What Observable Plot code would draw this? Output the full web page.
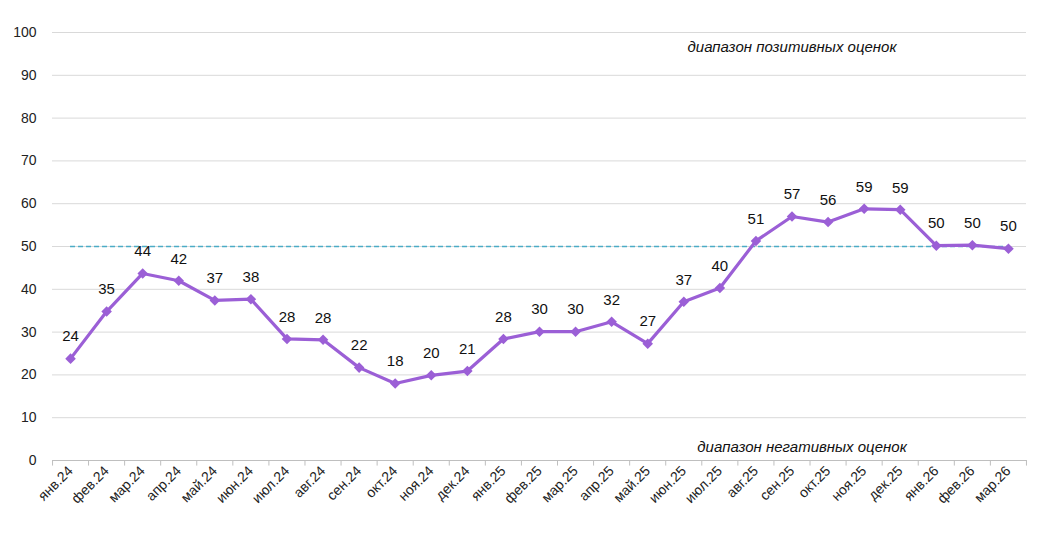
<!DOCTYPE html>
<html><head><meta charset="utf-8">
<script src="https://cdn.jsdelivr.net/npm/d3@7"></script>
<script src="https://cdn.jsdelivr.net/npm/@observablehq/plot@0.6"></script>
<style>body{margin:0;background:#fff;font-family:"Liberation Sans",Arial,sans-serif}</style>
</head><body><div id="c"></div>
<script>
const months = ["янв.24","фев.24","мар.24","апр.24","май.24","июн.24","июл.24","авг.24","сен.24","окт.24","ноя.24","дек.24","янв.25","фев.25","мар.25","апр.25","май.25","июн.25","июл.25","авг.25","сен.25","окт.25","ноя.25","дек.25","янв.26","фев.26","мар.26"];
const values = [23.8,34.8,43.7,42,37.4,37.7,28.4,28.2,21.7,18,19.9,20.9,28.4,30.1,30.1,32.4,27.3,37.1,40.3,51.3,57,55.7,58.8,58.6,50.2,50.3,49.5];
const labels = [24,35,44,42,37,38,28,28,22,18,20,21,28,30,30,32,27,37,40,51,57,56,59,59,50,50,50];
const yTicks = [0,10,20,30,40,50,60,70,80,90,100];
const threshold = 50;
const data = months.map((m,i)=>({m, v: values[i], l: labels[i]}));
const chart = Plot.plot({
  width: 1051, height: 536,
  marginLeft: 52, marginRight: 25, marginTop: 32, marginBottom: 76,
  style: {fontFamily: "Liberation Sans, Arial, sans-serif", fontSize: "14px", color: "#222"},
  x: {type: "point", domain: months, padding: 0.5, round: false, label: null, tickSize: 0, tickRotate: -45, tickPadding: 8},
  y: {domain: [0,100], ticks: yTicks, label: null, tickSize: 0, tickPadding: 16},
  marks: [
    Plot.gridY(yTicks.filter(t=>t>0), {stroke: "#d9d9d9", strokeOpacity: 1}),
    Plot.ruleY([0], {stroke: "#bfbfbf"}),
    Plot.ruleX(months, {x: d=>d, y1: 0, y2: -1.3, dx: 18, stroke: "#bfbfbf"}),
    Plot.ruleX([months[0]], {x: d=>d, y1: 0, y2: -1.3, dx: -18, stroke: "#bfbfbf"}),
    Plot.ruleY([threshold], {y: d=>d, x1: () => months[0], x2: () => months[months.length-1], stroke: "#4bacc6", strokeDasharray: "5,3", strokeWidth: 1.3}),
    Plot.line(data, {x: "m", y: "v", stroke: "#9b5fd6", strokeWidth: 3.2}),
    Plot.dot(data, {x: "m", y: "v", symbol: "square", rotate: 45, r: 4.2, fill: "#9b5fd6"}),
    Plot.text(data, {x: "m", y: "v", text: "l", dy: -22, fontSize: 15, fill: "#111"}),
    Plot.text(["диапазон позитивных оценок"], {x: () => months[20], y: () => 96.5, text: d=>d, fontStyle: "italic", fontSize: 15, fill: "#111"}),
    Plot.text(["диапазон негативных оценок"], {x: () => months[20], y: () => 3, dx: 10, text: d=>d, fontStyle: "italic", fontSize: 15, fill: "#111"})
  ]
});
document.getElementById("c").append(chart);
</script></body></html>
